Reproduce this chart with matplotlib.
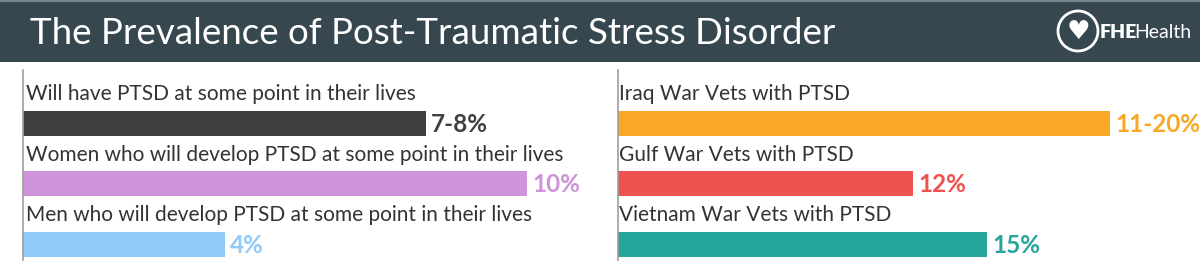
import matplotlib.pyplot as plt
from matplotlib.patches import Circle, Rectangle

# data
left_labels = ["Will have PTSD at some point in their lives",
               "Women who will develop PTSD at some point in their lives",
               "Men who will develop PTSD at some point in their lives"]
left_values = [8, 10, 4]
left_text = ["7-8%", "10%", "4%"]
left_colors = ["#404040", "#ce93d8", "#90caf9"]

right_labels = ["Iraq War Vets with PTSD",
                "Gulf War Vets with PTSD",
                "Vietnam War Vets with PTSD"]
right_values = [20, 12, 15]
right_text = ["11-20%", "12%", "15%"]
right_colors = ["#f9a825", "#ef5350", "#26a69a"]

title = "The Prevalence of Post-Traumatic Stress Disorder"

W, H = 1200, 272
fig = plt.figure(figsize=(12, 2.72), dpi=100)
fig.patch.set_facecolor("white")
plt.rcParams["font.family"] = ["Lato", "DejaVu Sans"]


def fx(px):
    return px / W


def fy(px):
    return 1 - px / H


# header band
hdr = fig.add_axes([0, fy(62), 1, 62 / H])
hdr.set_xlim(0, W)
hdr.set_ylim(62, 0)
hdr.axis("off")
hdr.add_patch(Rectangle((0, 0), W, 62, color="#37474f"))
hdr.axhline(0.5, color="#78868c", lw=1.5)
hdr.text(30, 34, title, color="white", fontsize=26.5, fontweight="normal",
         va="center", ha="left")
# logo
hdr.add_patch(Circle((1078, 31), 20, fill=False, ec="white", lw=2))
hdr.text(1078, 32, "\u2665", color="white", fontsize=19, ha="center",
         va="center", family="DejaVu Sans")
fhe = hdr.text(1100, 33, "FHE", color="white", fontsize=14,
               fontweight="heavy", va="center", ha="left")
hdr.annotate("Health", xy=(1, 0), xycoords=fhe, xytext=(-2.5, 0),
             textcoords="offset points", color="white", fontsize=14,
             va="bottom", ha="left")


def panel(x0, px_per_unit, labels, values, texts, colors):
    width_px = 560
    ax = fig.add_axes([fx(x0), fy(260), fx(width_px), 190 / H])
    ax.set_xlim(0, width_px / px_per_unit)
    ax.set_ylim(2.26, -0.88)
    for s in ["top", "right", "bottom"]:
        ax.spines[s].set_visible(False)
    ax.spines["left"].set_color("#9e9e9e")
    ax.spines["left"].set_linewidth(1.2)
    ax.set_xticks([])
    ax.set_yticks([])
    ys = list(range(len(values)))
    ax.barh(ys, values, height=0.42, color=colors)
    for y, lab, v, t, c in zip(ys, labels, values, texts, colors):
        ax.text(0.06, y - 0.48, lab, fontsize=15, color="#333333",
                va="center", ha="left")
        ax.text(v + 5 / px_per_unit, y + 0.02, t, fontsize=17.5,
                fontweight="bold", color=c, va="center", ha="left")
    return ax


panel(23, 50.4, left_labels, left_values, left_text, left_colors)
panel(618, 24.6, right_labels, right_values, right_text, right_colors)

fig.savefig("out.png", dpi=100)
